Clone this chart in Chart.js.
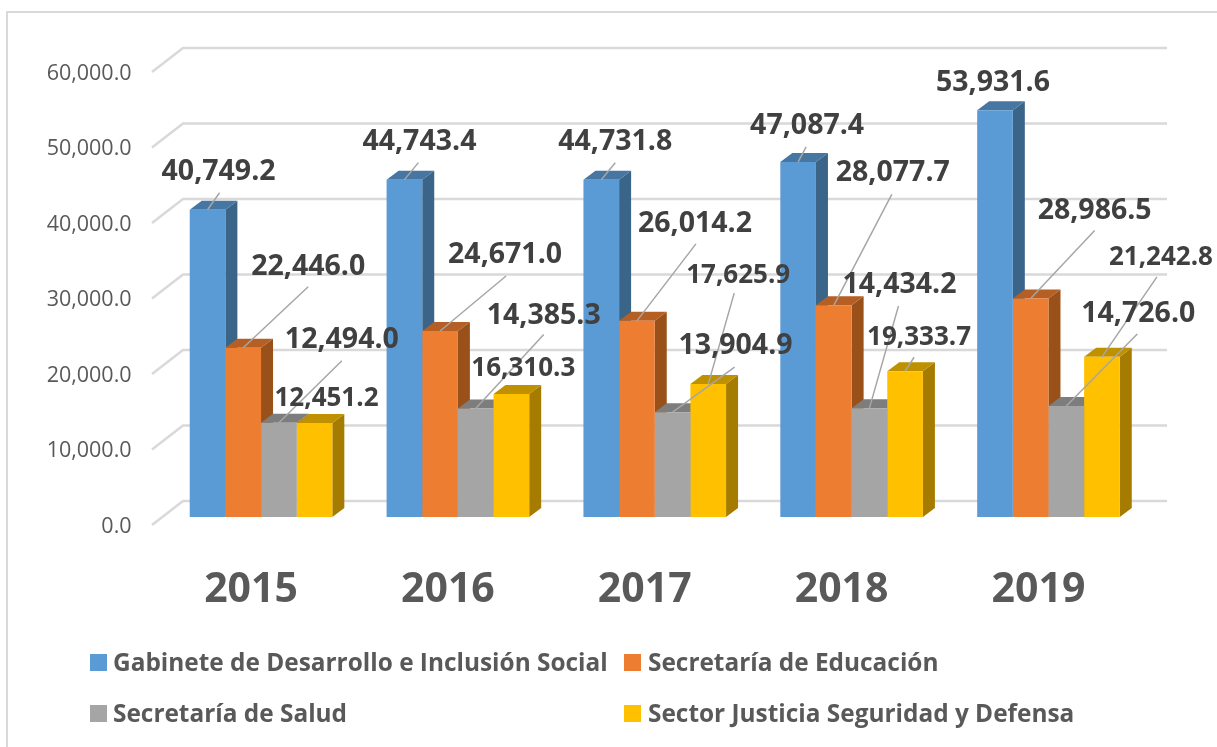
<!DOCTYPE html>
<html>
<head>
<meta charset="utf-8">
<title>Gasto por sector</title>
<script src="https://cdn.jsdelivr.net/npm/chart.js@4"></script>
<style>
  html, body { margin: 0; padding: 0; background: #fff; }
  canvas { display: block; }
</style>
</head>
<body>
<canvas id="gasto" width="1217" height="747"></canvas>
<script>
var years = ['2015', '2016', '2017', '2018', '2019'];
var gabinete = [40749.2, 44743.4, 44731.8, 47087.4, 53931.6];
var educacion = [22446.0, 24671.0, 26014.2, 28077.7, 28986.5];
var salud = [12494.0, 14385.3, 13904.9, 14434.2, 14726.0];
var justicia = [12451.2, 16310.3, 17625.9, 19333.7, 21242.8];
var axisTicks = [0, 10000, 20000, 30000, 40000, 50000, 60000];
var seriesNames = [
  'Gabinete de Desarrollo e Inclusión Social',
  'Secretaría de Educación',
  'Secretaría de Salud',
  'Sector Justicia Seguridad y Defensa'
];

// colours per series: front, top face, side face
var frontColors = ['#5b9bd5', '#ed7d31', '#a5a5a5', '#ffc000'];
var topColors = ['#4676a1', '#b55f24', '#7d7d7d', '#bf9000'];
var sideColors = ['#3a6488', '#995119', '#6a6a6a', '#a67c00'];

// value labels are hand placed: offset from the top centre of each bar
var labelDx = [
  [11, 15, 14, 9, -2],
  [65, 65, 58, 59, 64],
  [63, 68, 63, 30, 72],
  [12, 12, 30, 14, 59]
];
var labelDy = [
  [-38, -38, -38, -36, -27],
  [-81, -76, -97, -132, -88],
  [-83, -93, -66, -123, -92],
  [-25, -25, -109, -34, -99]
];
// where each leader line ends, same reference point (null = no leader)
var leaderEnd = [
  [[12, -17], [14, -17], [14, -17], [8, -15], null],
  [[65, -61], [66, -55], [59, -77], [58, -111], [64, -68]],
  [[63, -62], [68, -74], [62, -45], [29, -102], [71, -72]],
  [null, null, [26, -91], [9, -14], [55, -80]]
];
var labelSizes = [28.5, 28.5, 28.5, 26];

var DEPTH_X = 12, DEPTH_Y = 9;
var FONT = '"Open Sans", sans-serif';

function fmt(v) {
  return v.toLocaleString('en-US', { minimumFractionDigits: 1, maximumFractionDigits: 1 });
}

function poly(ctx, pts, color) {
  ctx.fillStyle = color;
  ctx.beginPath();
  ctx.moveTo(pts[0][0], pts[0][1]);
  for (var i = 1; i < pts.length; i++) ctx.lineTo(pts[i][0], pts[i][1]);
  ctx.closePath();
  ctx.fill();
}

var depthPlugin = {
  id: 'depth',
  beforeDraw: function(chart) {
    // outer frame, only left and top are inside the page
    var ctx = chart.ctx;
    ctx.save();
    ctx.strokeStyle = '#d9d9d9';
    ctx.lineWidth = 2;
    ctx.beginPath();
    ctx.moveTo(7, 747);
    ctx.lineTo(7, 12);
    ctx.lineTo(1217, 12);
    ctx.stroke();
    ctx.restore();
  },
  beforeDatasetsDraw: function(chart) {
    // floor and wall lines; the axis text sits a little under each line
    var ctx = chart.ctx, area = chart.chartArea, scale = chart.scales.yLabels;
    ctx.save();
    ctx.strokeStyle = '#d9d9d9';
    ctx.lineWidth = 2.5;
    scale.ticks.forEach(function(t) {
      var y = scale.getPixelForValue(t.value) - 1.5;
      ctx.beginPath();
      ctx.moveTo(area.left - 10.6, y);
      ctx.lineTo(area.left + 20.4, y - 24);
      ctx.lineTo(area.right + 20.1, y - 24);
      ctx.stroke();
    });
    // side and top faces left to right; the library paints the fronts over them
    chart.data.datasets.forEach(function(ds, s) {
      chart.getDatasetMeta(s).data.forEach(function(bar) {
        var l = bar.x - bar.width / 2, r = bar.x + bar.width / 2;
        poly(ctx, [[r, bar.y], [r + DEPTH_X, bar.y - DEPTH_Y], [r + DEPTH_X, bar.base - DEPTH_Y], [r, bar.base]], sideColors[s]);
        poly(ctx, [[l, bar.y], [l + DEPTH_X, bar.y - DEPTH_Y], [r + DEPTH_X, bar.y - DEPTH_Y], [r, bar.y]], topColors[s]);
      });
    });
    ctx.restore();
  },
  afterDatasetsDraw: function(chart) {
    var ctx = chart.ctx;
    ctx.save();
    // leaders first so the numbers sit on top
    ctx.strokeStyle = '#a6a6a6';
    ctx.lineWidth = 1.5;
    chart.data.datasets.forEach(function(ds, s) {
      chart.getDatasetMeta(s).data.forEach(function(bar, i) {
        var end = leaderEnd[s][i];
        if (!end) return;
        ctx.beginPath();
        ctx.moveTo(bar.x, bar.y);
        ctx.lineTo(bar.x + end[0], bar.y + end[1]);
        ctx.stroke();
      });
    });
    ctx.fillStyle = '#404040';
    ctx.textAlign = 'center';
    ctx.textBaseline = 'middle';
    chart.data.datasets.forEach(function(ds, s) {
      ctx.font = 'bold ' + labelSizes[s] + 'px ' + FONT;
      chart.getDatasetMeta(s).data.forEach(function(bar, i) {
        ctx.fillText(fmt(ds.data[i]), bar.x + labelDx[s][i], bar.y + labelDy[s][i]);
      });
    });
    ctx.restore();
  },
  afterDraw: function(chart) {
    // two column legend, the built in one cannot align its rows
    var ctx = chart.ctx;
    var boxX = [90, 624], textX = [113, 648], rowY = [662.5, 713.5];
    ctx.save();
    ctx.font = 'bold 24.4px ' + FONT;
    ctx.textAlign = 'left';
    ctx.textBaseline = 'middle';
    chart.data.datasets.forEach(function(ds, s) {
      var col = s % 2, row = s >> 1;
      ctx.fillStyle = frontColors[s];
      ctx.fillRect(boxX[col], rowY[row] - 8.5, 17, 17);
      ctx.fillStyle = '#595959';
      ctx.fillText(ds.label, textX[col], rowY[row] + 1.5);
    });
    ctx.restore();
  }
};

var series = [gabinete, educacion, salud, justicia];

var config = {
  type: 'bar',
  data: {
    labels: years,
    datasets: series.map(function(values, s) {
      return {
        label: seriesNames[s],
        data: values,
        backgroundColor: frontColors[s],
        borderWidth: 0,
        yAxisID: 'y'
      };
    })
  },
  options: {
    responsive: false,
    animation: false,
    layout: { padding: { top: 48, right: 70.1, bottom: 0, left: 0 } },
    datasets: { bar: { categoryPercentage: 0.7244, barPercentage: 1 } },
    plugins: { legend: { display: false }, tooltip: { enabled: false } },
    scales: {
      x: {
        grid: { display: false, drawTicks: false },
        border: { display: false },
        ticks: {
          color: '#595959',
          font: { family: FONT, size: 41, weight: 'bold' },
          padding: 41,
          labelOffset: -10,
          maxRotation: 0
        },
        afterFit: function(s) { s.height = 222; }
      },
      y: {
        display: false,
        min: -1061,
        max: 62202
      },
      yLabels: {
        position: 'left',
        min: 199,
        max: 63378,
        grid: { display: false, drawTicks: false },
        border: { display: false },
        ticks: {
          autoSkip: false,
          color: '#595959',
          font: { family: FONT, size: 21.5 },
          padding: 31,
          callback: function(v) { return fmt(v); }
        },
        afterBuildTicks: function(s) {
          s.ticks = axisTicks.map(function(v) { return { value: v }; });
        },
        afterFit: function(s) { s.width = 162.6; }
      }
    }
  },
  plugins: [depthPlugin]
};

var chart = new Chart(document.getElementById('gasto').getContext('2d'), config);
</script>
</body>
</html>
